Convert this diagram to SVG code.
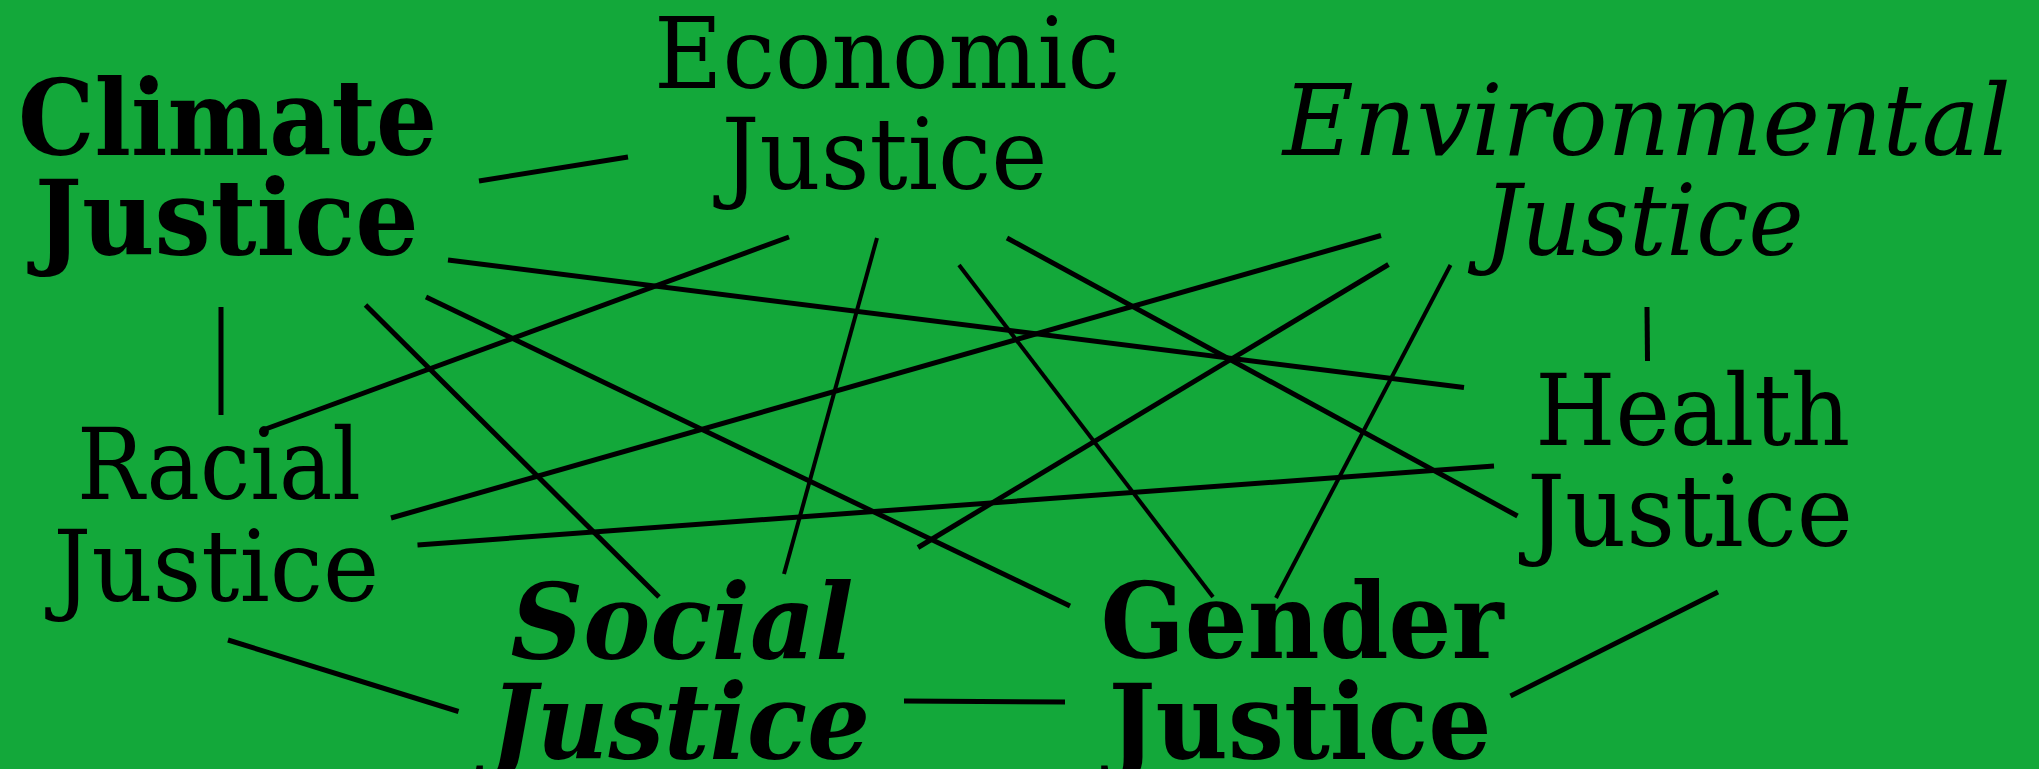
<svg xmlns="http://www.w3.org/2000/svg" width="2039" height="769" viewBox="0 0 2039 769">
<style>
.bg{fill:#13a83a}
text{font-family:"DejaVu Serif","Liberation Serif",serif;fill:#000;text-anchor:middle;font-size:100px}
.b{font-weight:bold;font-size:104px}
.i{font-style:italic}
.bi{font-weight:bold;font-style:italic;font-size:104px}
.e line{stroke:#000;stroke-width:5;stroke-linecap:butt}
.e line.t{stroke-width:4}
</style>
<rect class="bg" x="0" y="0" width="2039" height="769"/>
<g id="connectors" class="e">
<line x1="479" y1="181" x2="628" y2="157"/>
<line x1="448" y1="260" x2="1464" y2="387.5"/>
<line x1="221" y1="307" x2="221" y2="415"/>
<line x1="365.5" y1="305" x2="659" y2="597"/>
<line x1="426" y1="297" x2="1070" y2="606"/>
<line x1="789" y1="237" x2="263" y2="430"/>
<line class="t" x1="877" y1="238" x2="784" y2="574"/>
<line class="t" x1="959" y1="265" x2="1213" y2="597"/>
<line x1="1007" y1="238" x2="1517.5" y2="516"/>
<line x1="1381" y1="235.5" x2="391" y2="518"/>
<line x1="1388.5" y1="264.5" x2="918" y2="547.5"/>
<line class="t" x1="1450.5" y1="265" x2="1276" y2="598"/>
<line x1="1647" y1="307" x2="1647.5" y2="361"/>
<line x1="417.5" y1="545" x2="1494" y2="466"/>
<line x1="228" y1="640" x2="458.5" y2="711.5"/>
<line x1="904" y1="701" x2="1065" y2="702"/>
<line x1="1510.5" y1="696" x2="1718" y2="592"/>
</g>
<g id="climate"><text class="b" x="227.6" y="155" textLength="419" lengthAdjust="spacingAndGlyphs">Climate</text><text class="b" x="226.7" y="255" textLength="384" lengthAdjust="spacingAndGlyphs">Justice</text></g>
<g id="economic"><text x="887" y="88" textLength="466" lengthAdjust="spacingAndGlyphs">Economic</text><text x="884.5" y="189" textLength="326" lengthAdjust="spacingAndGlyphs">Justice</text></g>
<g id="environmental"><text class="i" x="1646.8" y="155" textLength="728" lengthAdjust="spacingAndGlyphs">Environmental</text><text class="i" x="1643.6" y="255" textLength="320" lengthAdjust="spacingAndGlyphs">Justice</text></g>
<g id="racial"><text x="219" y="499" textLength="284" lengthAdjust="spacingAndGlyphs">Racial</text><text x="216.3" y="601" textLength="326" lengthAdjust="spacingAndGlyphs">Justice</text></g>
<g id="health"><text x="1692.8" y="445" textLength="315" lengthAdjust="spacingAndGlyphs">Health</text><text x="1690" y="546" textLength="326" lengthAdjust="spacingAndGlyphs">Justice</text></g>
<g id="social"><text class="bi" x="682" y="659" textLength="343" lengthAdjust="spacingAndGlyphs">Social</text><text class="bi" x="680" y="759" textLength="380" lengthAdjust="spacingAndGlyphs">Justice</text></g>
<g id="gender"><text class="b" x="1302" y="658" textLength="403" lengthAdjust="spacingAndGlyphs">Gender</text><text class="b" x="1300" y="759" textLength="383" lengthAdjust="spacingAndGlyphs">Justice</text></g>
</svg>
